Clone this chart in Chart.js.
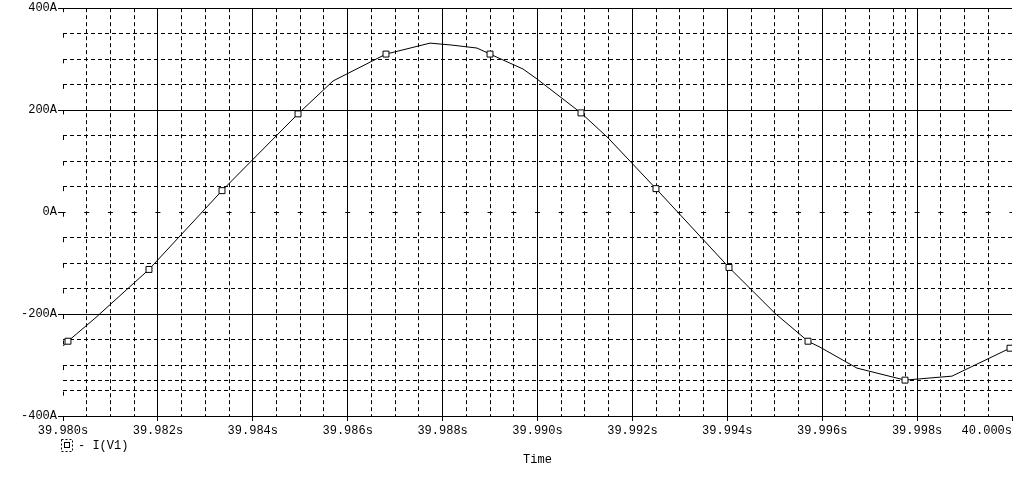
<!DOCTYPE html>
<html><head><meta charset="utf-8">
<script src="https://cdn.jsdelivr.net/npm/chart.js@4.4.1/dist/chart.umd.min.js"></script>
<style>html,body{margin:0;padding:0;background:#fff;overflow:hidden}#wrap{width:1020px;height:484px;position:relative}</style>
</head><body><div id="wrap"><canvas id="c" width="1020" height="484"></canvas></div>
<script>
// ---- data ----
const seriesName = 'I(V1)';
const xAxisTitle = 'Time';
const times = [39.980000, 39.980105, 39.980674, 39.981812, 39.983351, 39.984953, 39.985690, 39.986807,
  39.987735, 39.988198, 39.988725, 39.988999, 39.989695, 39.989990, 39.990917, 39.991486, 39.992497,
  39.994036, 39.995005, 39.995701, 39.995954, 39.996734, 39.997745, 39.998736, 39.999958, 40.000000];
const currents = [-263.1, -253.3, -208.3, -112.5, 42.1, 192.7, 257.2, 310.0,
  331.5, 327.6, 321.8, 310.0, 280.7, 261.1, 194.6, 145.7, 46.0,
  -108.6, -198.5, -253.3, -265.0, -306.1, -329.6, -321.8, -267.0, -265.0];
const markerIdx = [1, 3, 4, 5, 7, 11, 14, 16, 17, 19, 22, 24];
const xTickValues = [39.980, 39.982, 39.984, 39.986, 39.988, 39.990, 39.992, 39.994, 39.996, 39.998, 40.000];
const xTickLabels = ['39.980s', '39.982s', '39.984s', '39.986s', '39.988s', '39.990s', '39.992s', '39.994s', '39.996s', '39.998s', '40.000s'];
const yTickValues = [400, 200, 0, -200, -400];
const yTickLabels = ['400A', '200A', '0A', '-200A', '-400A'];

// ---- derived helpers ----
const FONT = '"Liberation Mono", "DejaVu Sans Mono", monospace';
const near = (a, b, eps) => Math.abs(a - b) < eps;
let minI = 0;
currents.forEach((v, i) => { if (v < currents[minI]) minI = i; });
const minTime = times[minI], minValue = currents[minI];

const xMin = xTickValues[0], xMax = xTickValues[xTickValues.length - 1];
const yMin = Math.min(...yTickValues), yMax = Math.max(...yTickValues);
const xGrid = [];
for (let k = 0; k <= 40; k++) xGrid.push((Math.round(xMin * 1000) + k * 0.5) / 1000);
xGrid.push(minTime);
xGrid.sort((a, b) => a - b);
const yGrid = [];
for (let v = yMin; v <= yMax; v += 50) yGrid.push(v);
yGrid.push(minValue);
yGrid.sort((a, b) => a - b);

const xMajorIndex = v => xTickValues.findIndex(m => near(m, v, 1e-7));
const yMajorIndex = v => yTickValues.findIndex(m => near(m, v, 1e-6));

const points = times.map((t, i) => ({ x: t, y: currents[i] }));
const radii = times.map((t, i) => markerIdx.includes(i) ? 4.2 : 0);

const legendPlugin = {
  id: 'pspiceLegend',
  afterDraw(chart) {
    const ctx = chart.ctx;
    const x0 = chart.chartArea.left;
    ctx.save();
    ctx.strokeStyle = '#000';
    ctx.lineWidth = 1;
    ctx.setLineDash([2, 2]);
    ctx.strokeRect(x0 - 1.5, 439.5, 11, 12);
    ctx.setLineDash([]);
    ctx.strokeRect(x0 + 1.5, 442.5, 5, 5);
    ctx.fillStyle = '#000';
    ctx.font = '12px ' + FONT;
    ctx.textBaseline = 'middle';
    ctx.textAlign = 'left';
    ctx.fillText('- ' + seriesName, x0 + 15, 446);
    ctx.restore();
  }
};

new Chart(document.getElementById('c'), {
  type: 'line',
  data: {
    datasets: [{
      label: seriesName,
      data: points,
      borderColor: '#000',
      borderWidth: 1,
      tension: 0,
      fill: false,
      pointStyle: 'rect',
      pointRadius: radii,
      pointHoverRadius: radii,
      pointBackgroundColor: '#fff',
      pointBorderColor: '#000',
      pointBorderWidth: 1
    }]
  },
  options: {
    responsive: false,
    animation: false,
    devicePixelRatio: 1,
    layout: { padding: { left: 0, top: 7, right: 8, bottom: 0 } },
    plugins: { legend: { display: false }, tooltip: { enabled: false } },
    scales: {
      x: {
        type: 'linear',
        min: xMin, max: xMax,
        bounds: 'data',
        afterBuildTicks: s => { s.ticks = xGrid.map(v => ({ value: v })); },
        afterFit: s => { s.height = 68; s.paddingLeft = 0; s.paddingRight = 0; },
        ticks: {
          autoSkip: false, maxRotation: 0, minRotation: 0, padding: 3,
          color: '#000', font: { family: FONT, size: 12 },
          callback: (v) => {
            const i = xMajorIndex(v);
            if (i < 0) return '';
            return i === xTickLabels.length - 1 ? xTickLabels[i] + ' '.repeat(xTickLabels[i].length) : xTickLabels[i];
          }
        },
        grid: {
          lineWidth: 1,
          tickLength: 5,
          color: c => {
            if (!c.tick) return '#000';
            const i = xMajorIndex(c.tick.value);
            return i === xTickValues.length - 1 ? 'rgba(0,0,0,0)' : '#000';
          },
          tickColor: c => (c.tick && xMajorIndex(c.tick.value) >= 0) ? '#000' : 'rgba(0,0,0,0)'
        },
        border: {
          display: true, color: '#000', width: 1,
          dash: c => {
            if (!c.tick) return [];
            const i = xMajorIndex(c.tick.value);
            if (i === 0) return [4, 21.5625];
            if (i > 0) return [];
            return [4, 3];
          },
          dashOffset: 0
        },
        title: { display: true, text: xAxisTitle, color: '#000', font: { family: FONT, size: 12 }, padding: { top: 0, bottom: 17 } }
      },
      y: {
        type: 'linear',
        min: yMin, max: yMax,
        bounds: 'data',
        afterBuildTicks: s => { s.ticks = yGrid.map(v => ({ value: v })); },
        afterFit: s => { s.width = 63; },
        ticks: {
          autoSkip: false, padding: 1,
          color: '#000', font: { family: FONT, size: 12 },
          callback: (v) => { const i = yMajorIndex(v); return i < 0 ? '' : yTickLabels[i]; }
        },
        grid: {
          lineWidth: 1,
          tickLength: 5,
          color: '#000',
          tickColor: c => (c.tick && yMajorIndex(c.tick.value) >= 0) ? '#000' : 'rgba(0,0,0,0)'
        },
        border: {
          display: false,
          dash: c => {
            if (!c.tick) return [];
            const v = c.tick.value;
            if (near(v, 0, 1e-6)) return [5, 18.725];
            if (yMajorIndex(v) >= 0) return [];
            return [4, 3];
          },
          dashOffset: c => (c.tick && near(c.tick.value, 0, 1e-6)) ? 2.5 : 0
        }
      }
    }
  },
  plugins: [legendPlugin]
});
</script>
</body></html>
